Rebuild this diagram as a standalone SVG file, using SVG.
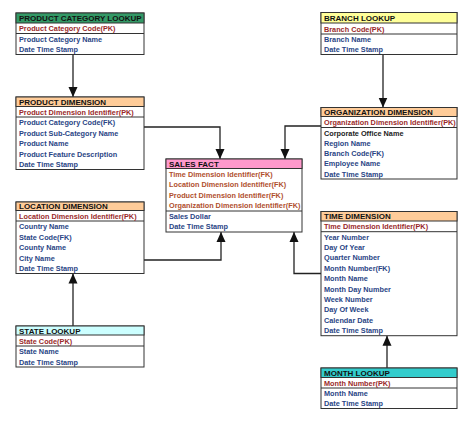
<svg xmlns="http://www.w3.org/2000/svg" width="474" height="423" viewBox="0 0 474 423">
<style>
.box{fill:#fff;stroke:#333;stroke-width:1}
.sep{stroke:#333;stroke-width:1}
.hd{font-family:"Liberation Sans",Arial,sans-serif;font-size:8px;font-weight:bold;fill:#111}
.pk{font-family:"Liberation Sans",Arial,sans-serif;font-size:7.3px;font-weight:bold;fill:#9a2a2a}
.fk{font-family:"Liberation Sans",Arial,sans-serif;font-size:7.3px;font-weight:bold;fill:#b0502e}
.r{font-family:"Liberation Sans",Arial,sans-serif;font-size:7.3px;font-weight:bold;fill:#2a4585}
.k{font-family:"Liberation Sans",Arial,sans-serif;font-size:7.3px;font-weight:bold;fill:#222}
.con{fill:none;stroke:#222;stroke-width:1.3}
</style>
<defs>
<marker id="ah" viewBox="0 0 10 10" refX="10" refY="5" markerWidth="10" markerHeight="10" markerUnits="userSpaceOnUse" orient="auto">
<path d="M0,0.5 L10,5 L0,9.5 z" fill="#111"/>
</marker>
</defs>
<rect width="474" height="423" fill="#fff"/>

<g id="connectors">
<line class="con" x1="73" y1="54.5" x2="73" y2="97" marker-end="url(#ah)"/>
<line class="con" x1="383" y1="54.5" x2="383" y2="107.5" marker-end="url(#ah)"/>
<path class="con" d="M144,127 H220 V159" marker-end="url(#ah)"/>
<path class="con" d="M321,126 H285 V159" marker-end="url(#ah)"/>
<path class="con" d="M144,260 H221 V232" marker-end="url(#ah)"/>
<path class="con" d="M321,273.5 H294 V232" marker-end="url(#ah)"/>
<line class="con" x1="73" y1="326" x2="73" y2="273.5" marker-end="url(#ah)"/>
<line class="con" x1="387" y1="368" x2="387" y2="335.7" marker-end="url(#ah)"/>
</g>

<g id="product-category-lookup">
<rect class="box" x="16" y="13" width="128" height="41.5"/>
<rect x="16" y="13" width="128" height="10" fill="#339966" stroke="#333"/>
<line class="sep" x1="16" y1="33.5" x2="144" y2="33.5"/>
<text class="hd" x="19" y="21">PRODUCT CATEGORY LOOKUP</text>
<text class="pk" x="19" y="31">Product Category Code(PK)</text>
<text class="r" x="19" y="41.5">Product Category Name</text>
<text class="r" x="19" y="52">Date Time Stamp</text>
</g>

<g id="product-dimension">
<rect class="box" x="16" y="97" width="128" height="72.5"/>
<rect x="16" y="97" width="128" height="9.5" fill="#ffcc99" stroke="#333"/>
<line class="sep" x1="16" y1="117" x2="144" y2="117"/>
<text class="hd" x="19" y="104.5">PRODUCT DIMENSION</text>
<text class="pk" x="19" y="114.5">Product Dimension Identifier(PK)</text>
<text class="r" x="19" y="125">Product Category Code(FK)</text>
<text class="r" x="19" y="135.5">Product Sub-Category Name</text>
<text class="r" x="19" y="146">Product Name</text>
<text class="r" x="19" y="156.5">Product Feature Description</text>
<text class="r" x="19" y="167">Date Time Stamp</text>
</g>

<g id="branch-lookup">
<rect class="box" x="321" y="12.5" width="136" height="42"/>
<rect x="321" y="12.5" width="136" height="10.5" fill="#ffff99" stroke="#333"/>
<line class="sep" x1="321" y1="34" x2="457" y2="34"/>
<text class="hd" x="324" y="20.8">BRANCH LOOKUP</text>
<text class="pk" x="324" y="31.5">Branch Code(PK)</text>
<text class="r" x="324" y="41.8">Branch Name</text>
<text class="r" x="324" y="52">Date Time Stamp</text>
</g>

<g id="organization-dimension">
<rect class="box" x="321" y="107.5" width="136" height="71.5"/>
<rect x="321" y="107.5" width="136" height="9" fill="#ffcc99" stroke="#333"/>
<line class="sep" x1="321" y1="127.5" x2="457" y2="127.5"/>
<text class="hd" x="324" y="115">ORGANIZATION DIMENSION</text>
<text class="pk" x="324" y="125">Organization Dimension Identifier(PK)</text>
<text class="k" x="324" y="135.5">Corporate Office Name</text>
<text class="r" x="324" y="145.8">Region Name</text>
<text class="r" x="324" y="156.1">Branch Code(FK)</text>
<text class="r" x="324" y="166.4">Employee Name</text>
<text class="r" x="324" y="176.7">Date Time Stamp</text>
</g>

<g id="sales-fact">
<rect class="box" x="166" y="159" width="136" height="73"/>
<rect x="166" y="159" width="136" height="9.5" fill="#ff99cc" stroke="#333"/>
<line class="sep" x1="166" y1="211" x2="302" y2="211"/>
<text class="hd" x="169" y="166.5">SALES FACT</text>
<text class="fk" x="169" y="176.5">Time Dimension Identifier(FK)</text>
<text class="fk" x="169" y="187.1">Location Dimension Identifier(FK)</text>
<text class="fk" x="169" y="197.7">Product Dimension Identifier(FK)</text>
<text class="fk" x="169" y="208.3">Organization Dimension Identifier(FK)</text>
<text class="r" x="169" y="219">Sales Dollar</text>
<text class="r" x="169" y="229.4">Date Time Stamp</text>
</g>

<g id="location-dimension">
<rect class="box" x="16" y="202" width="128" height="71.5"/>
<rect x="16" y="202" width="128" height="8.5" fill="#ffcc99" stroke="#333"/>
<line class="sep" x1="16" y1="221" x2="144" y2="221"/>
<text class="hd" x="19" y="209">LOCATION DIMENSION</text>
<text class="pk" x="19" y="218.5">Location Dimension Identifier(PK)</text>
<text class="r" x="19" y="229">Country Name</text>
<text class="r" x="19" y="239.5">State Code(FK)</text>
<text class="r" x="19" y="250">County Name</text>
<text class="r" x="19" y="260.5">City Name</text>
<text class="r" x="19" y="271">Date Time Stamp</text>
</g>

<g id="state-lookup">
<rect class="box" x="16" y="326" width="128" height="41"/>
<rect x="16" y="326" width="128" height="9" fill="#ccffff" stroke="#333"/>
<line class="sep" x1="16" y1="346" x2="144" y2="346"/>
<text class="hd" x="19" y="333.5">STATE LOOKUP</text>
<text class="pk" x="19" y="343.5">State Code(PK)</text>
<text class="r" x="19" y="354">State Name</text>
<text class="r" x="19" y="364.5">Date Time Stamp</text>
</g>

<g id="time-dimension">
<rect class="box" x="321" y="211.5" width="136" height="124.2"/>
<rect x="321" y="211.5" width="136" height="9.5" fill="#ffcc99" stroke="#333"/>
<line class="sep" x1="321" y1="231.7" x2="457" y2="231.7"/>
<text class="hd" x="324" y="219">TIME DIMENSION</text>
<text class="pk" x="324" y="229.2">Time Dimension Identifier(PK)</text>
<text class="r" x="324" y="239.6">Year Number</text>
<text class="r" x="324" y="250">Day Of Year</text>
<text class="r" x="324" y="260.4">Quarter Number</text>
<text class="r" x="324" y="270.8">Month Number(FK)</text>
<text class="r" x="324" y="281.2">Month Name</text>
<text class="r" x="324" y="291.6">Month Day Number</text>
<text class="r" x="324" y="302">Week Number</text>
<text class="r" x="324" y="312.4">Day Of Week</text>
<text class="r" x="324" y="322.8">Calendar Date</text>
<text class="r" x="324" y="333.2">Date Time Stamp</text>
</g>

<g id="month-lookup">
<rect class="box" x="321" y="368" width="136" height="40.5"/>
<rect x="321" y="368" width="136" height="9.5" fill="#33cccc" stroke="#333"/>
<line class="sep" x1="321" y1="388" x2="457" y2="388"/>
<text class="hd" x="324" y="375.5">MONTH LOOKUP</text>
<text class="pk" x="324" y="385.5">Month Number(PK)</text>
<text class="r" x="324" y="396">Month Name</text>
<text class="r" x="324" y="406.2">Date Time Stamp</text>
</g>
</svg>
